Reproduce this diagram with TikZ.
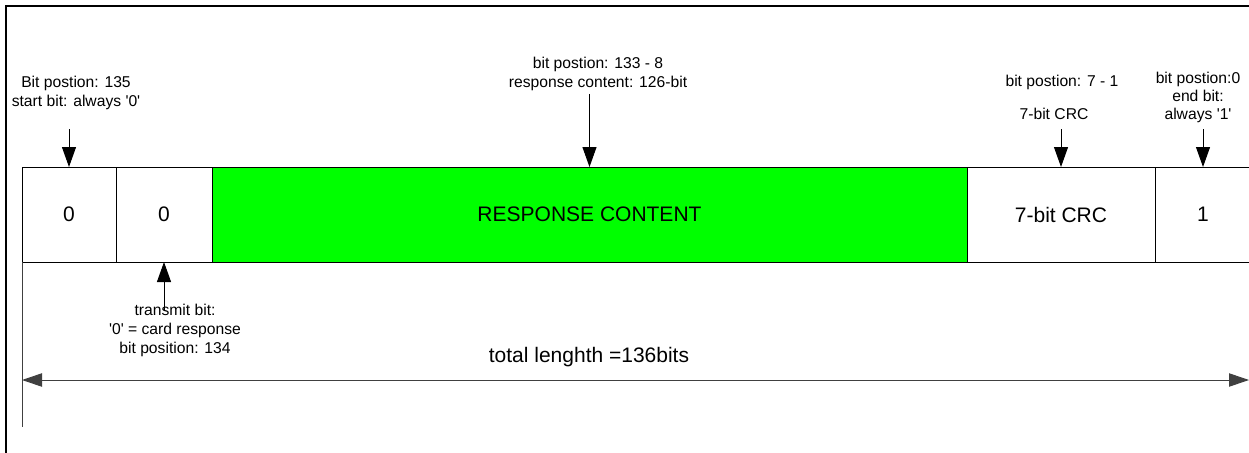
\documentclass[tikz,border=0pt]{standalone}
\usepackage{fontspec}
\setmainfont{Liberation Sans}
\usetikzlibrary{arrows.meta}
\definecolor{pgreen}{RGB}{0,255,0}
\newcommand{\sq}{\textquotesingle}
\tikzset{
  cell/.style={draw=black, line width=0.75pt, inner sep=0pt, outer sep=0pt,
    minimum height=71.25pt, font=\fontsize{15.75}{18}\selectfont},
  lbl/.style={align=center, inner sep=0pt, font=\fontsize{11.75}{14.25}\selectfont},
  big/.style={inner sep=0pt, font=\fontsize{15.75}{18}\selectfont},
  pointer/.style={line width=0.75pt, -{Triangle[length=15pt,width=10.5pt]}},
  dimline/.style={line width=0.75pt, black!75, {Triangle[length=15pt,width=10pt]}-{Triangle[length=15pt,width=10pt]}},
  frame/.style={line width=1.5pt, black}
}
\begin{document}
\begin{tikzpicture}[x=0.75pt, y=-0.75pt]
\useasboundingbox (0,0) rectangle (1249,453);
\clip (0,0) rectangle (1249,453);
\fill[white] (0,0) rectangle (1249,453);
\draw[frame] (6,470) -- (6,6) -- (1270,6);

% cells
\node[cell, minimum width=70.5pt] (b1) at (69,214.5) {0};
\node[cell, minimum width=72pt] (b2) at (164,214.5) {0};
\node[cell, minimum width=566.25pt, fill=pgreen] (rc) at (589.5,214.5) {RESPONSE CONTENT};
\node[cell, minimum width=141pt] (crc) at (1061,214.5) {7-bit CRC};
\node[cell, minimum width=72pt] (eb) at (1203,214.5) {1};

% labels
\node[lbl] (l1) at (76,93) {Bit postion: 135\\start bit: always \sq0\sq};
\node[lbl] (l2) at (598,73.5) {bit postion: 133 - 8\\response content: 126-bit};
\node[lbl] (l3a) at (1062,82) {bit postion: 7 - 1};
\node[lbl] (l3b) at (1054,114) {7-bit CRC};
\node[lbl, font=\fontsize{11.75}{13.5}\selectfont] (l4) at (1198,97) {bit postion:0\\end bit:\\always \sq1\sq};
\node[lbl] (l5) at (175,330) {transmit bit:\\\sq0\sq{} = card response\\bit position: 134};
\node[big] (tl) at (589,357) {total lenghth =136bits};

% pointer arrows
\coordinate (a1) at (69,129);
\coordinate (a2) at (589.5,94);
\coordinate (a3) at (1061,129);
\coordinate (a4) at (1203,129);
\coordinate (a5) at (164,311);
\draw[pointer] (a1) -- (b1.north);
\draw[pointer] (a2) -- (rc.north);
\draw[pointer] (a3) -- (crc.north);
\draw[pointer] (a4) -- (eb.north);
\draw[pointer] (a5) -- (b2.south);

% total length dimension
\coordinate (dl) at (22,380);
\coordinate (dr) at (1249,380);
\coordinate (vb) at (22,427);
\draw[line width=0.75pt, black!75] (b1.south west) -- (vb);
\draw[dimline] (dl) -- (dr);
\end{tikzpicture}
\end{document}
